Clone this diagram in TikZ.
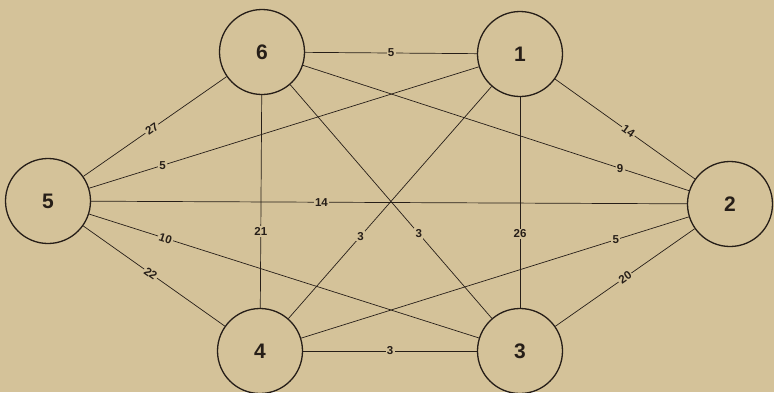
\documentclass[tikz,border=0pt]{standalone}
\usepackage{fontspec}
\setmainfont{Liberation Sans}
\definecolor{bg}{RGB}{212,194,153}
\definecolor{ink}{RGB}{38,30,24}
\begin{document}
\begin{tikzpicture}[x=1pt,y=-1pt,
  state/.style={circle,draw=ink,fill=bg,line width=1.3pt,minimum size=85pt,inner sep=0pt,text=ink,font=\fontsize{21}{24}\selectfont\bfseries},
  edge/.style={draw=ink,line width=0.7pt},
  wt/.style={fill=bg,inner sep=1.3pt,text=ink,font=\fontsize{11.5}{13}\selectfont\bfseries},
]
\fill[bg] (0,0) rectangle (774,392);
\useasboundingbox (0,0) rectangle (774,392);

\node[state] (n6) at (262,52) {6};
\node[state] (n1) at (520,54) {1};
\node[state] (n5) at (48,201) {5};
\node[state] (n2) at (730,204) {2};
\node[state] (n4) at (260,351) {4};
\node[state] (n3) at (520,351) {3};

\draw[edge] (n6) -- (n1);
\draw[edge] (n5) -- (n6);
\draw[edge] (n5) -- (n1);
\draw[edge] (n5) -- (n2);
\draw[edge] (n6) -- (n4);
\draw[edge] (n5) -- (n3);
\draw[edge] (n5) -- (n4);
\draw[edge] (n1) -- (n2);
\draw[edge] (n6) -- (n2);
\draw[edge] (n1) -- (n3);
\draw[edge] (n6) -- (n3);
\draw[edge] (n4) -- (n2);
\draw[edge] (n1) -- (n4);
\draw[edge] (n3) -- (n2);
\draw[edge] (n4) -- (n3);

\path (n6.center) -- (n1.center) node[wt,pos=0.5] {5};
\path (n5.center) -- (n6.center) node[wt,pos=0.485,sloped] {27};
\path (n5.center) -- (n1.center) node[wt,pos=0.243] {5};
\path (n5.center) -- (n2.center) node[wt,pos=0.401] {14};
\path (n6.center) -- (n4.center) node[wt,pos=0.6] {21};
\path (n5.center) -- (n3.center) node[wt,pos=0.249,sloped] {10};
\path (n5.center) -- (n4.center) node[wt,pos=0.484,sloped] {22};
\path (n1.center) -- (n2.center) node[wt,pos=0.516,sloped] {14};
\path (n6.center) -- (n2.center) node[wt,pos=0.765] {9};
\path (n1.center) -- (n3.center) node[wt,pos=0.606] {26};
\path (n6.center) -- (n3.center) node[wt,pos=0.608] {3};
\path (n4.center) -- (n2.center) node[wt,pos=0.757] {5};
\path (n1.center) -- (n4.center) node[wt,pos=0.613] {3};
\path (n3.center) -- (n2.center) node[wt,pos=0.5,sloped] {20};
\path (n4.center) -- (n3.center) node[wt,pos=0.5] {3};
\end{tikzpicture}
\end{document}
